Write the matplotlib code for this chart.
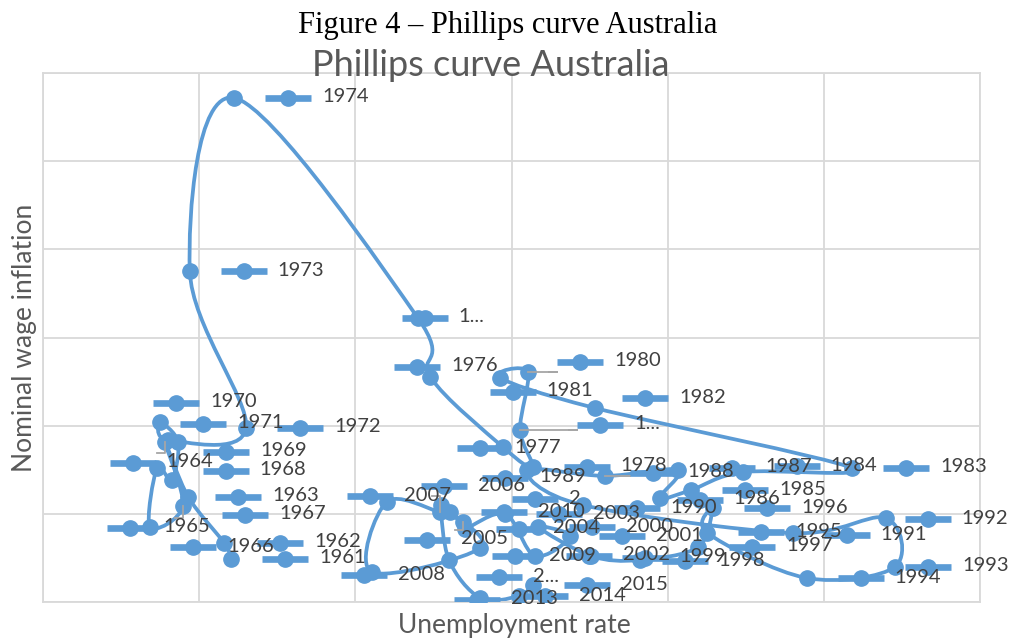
import numpy as np
import matplotlib.pyplot as plt
from matplotlib.path import Path
from matplotlib.patches import PathPatch

years = list(range(1961, 2016))

# unemployment rate (%) and nominal wage inflation (%)
unemployment = [2.41, 2.32, 1.86, 1.56, 1.79, 1.37, 1.46, 1.65, 1.73, 1.50,
                1.60, 2.60, 1.88, 2.45, 4.80, 4.96, 5.89, 6.27, 6.11, 6.21,
                5.85, 7.07, 10.36, 8.96, 8.30, 7.90, 8.13, 7.20, 6.20, 6.91,
                9.60, 10.79, 10.91, 9.78, 8.51, 8.58, 8.39, 7.64, 7.02, 6.34,
                6.75, 6.30, 5.92, 5.40, 5.38, 5.08, 4.40, 4.21, 5.60, 5.21,
                5.10, 5.20, 5.60, 6.09, 6.27]
wage_inflation = [2.44, 3.35, 5.96, 9.08, 5.45, 4.25, 7.60, 6.92, 9.08, 10.21,
                  9.19, 9.87, 18.77, 28.59, 16.11, 12.76, 8.79, 7.66, 9.76, 13.05,
                  12.71, 11.00, 7.60, 7.37, 6.35, 5.90, 7.49, 7.15, 7.49, 5.50,
                  3.91, 4.76, 1.99, 1.36, 3.91, 5.33, 3.12, 2.38, 2.61, 4.25,
                  3.74, 2.61, 4.99, 4.14, 4.54, 5.10, 5.67, 1.70, 3.06, 5.10,
                  5.50, 2.38, 0.23, 0.34, 0.96]

# labels that were cut short in the original
short_labels = {1975: '1...', 1979: '1...', 2011: '2', 2012: '2...'}

# where each data label's legend key sits, in pixels from its point (right, down)
label_offset = {
    1961: (54, 0), 1962: (56, 0), 1963: (50, 0), 1964: (-32, 21), 1965: (-53, 22),
    1966: (43, 20), 1967: (88, 47), 1968: (54, -9), 1969: (48, 10), 1970: (16, -19),
    1971: (35, -16), 1975: (7, 0), 1976: (-13, -10), 1977: (-23, 1), 1979: (80, -5),
    1980: (52, -10), 1981: (13, 14), 1982: (50, -10), 1984: (54, -6), 1986: (40, 2),
    1987: (54, -2), 1988: (48, -3), 1989: (-22, 8), 1990: (54, 3), 1991: (54, 2),
    1992: (42, 1), 1993: (33, 0), 1995: (54, -1), 1998: (45, 1), 1999: (54, 2),
    2001: (52, 0), 2005: (-36, 18), 2006: (4, -26), 2007: (-17, -6), 2008: (-8, 3),
    2009: (35, 8), 2011: (94, -6), 2012: (50, 17), 2013: (-3, 2), 2014: (26, 0),
}
leader_years = [1964, 1965, 1979, 1980, 1988, 2005, 2006]

blue = '#5B9BD5'
grey_text = '#404040'


def smooth_path(x, y):
    # Excel-like smoothed line (Catmull-Rom as cubic Bezier)
    pts = np.column_stack([x, y])
    p = np.vstack([pts[0], pts, pts[-1]])
    verts = [pts[0]]
    codes = [Path.MOVETO]
    for i in range(1, len(pts)):
        p0, p1, p2, p3 = p[i - 1], p[i], p[i + 1], p[i + 2]
        verts += [p1 + (p2 - p0) / 6, p2 - (p3 - p1) / 6, p2]
        codes += [Path.CURVE4] * 3
    return Path(verts, codes)


fig = plt.figure(figsize=(10.11, 6.39), dpi=100)
ax = fig.add_axes([43 / 1011, 37 / 639, 937 / 1011, 529 / 639])
ax.set_xlim(0, 12)
ax.set_ylim(0, 30)
ax.set_xticks(np.arange(0, 13, 2))
ax.set_yticks(np.arange(0, 31, 5))
ax.tick_params(length=0, labelleft=False, labelbottom=False)
ax.grid(color='#D9D9D9', lw=1.3)
ax.set_axisbelow(True)
for s in ax.spines.values():
    s.set_color('#D9D9D9')
    s.set_linewidth(1.3)

ax.add_patch(PathPatch(smooth_path(unemployment, wage_inflation), facecolor='none',
                       edgecolor=blue, lw=2.7, zorder=2))
ax.plot(unemployment, wage_inflation, 'o', color=blue, ms=11, zorder=3)

to_px = ax.transData
inv = to_px.inverted()
for yr, u, w in zip(years, unemployment, wage_inflation):
    mx, my = to_px.transform((u, w))
    dx, dy = label_offset.get(yr, (54, 0))
    kx, ky = mx + dx, my - dy
    txt = short_labels.get(yr, str(yr))
    if yr in leader_years:
        # leader line from the point to the nearest edge of the label box
        bx0, bx1 = kx - 23, kx + 36 + 11 * len(txt)
        by0, by1 = ky - 10, ky + 10
        ex, ey = min(max(mx, bx0), bx1), min(max(my, by0), by1)
        tail = 8 if ex < mx else -8
        seg = inv.transform([(mx, my), (ex, ey), (ex + tail, ey)])
        ax.plot(seg[:, 0], seg[:, 1], color='#A6A6A6', lw=1.3, zorder=3.5)
    key = inv.transform([(kx - 23, ky), (kx + 23, ky)])
    ax.plot(key[:, 0], key[:, 1], color=blue, lw=4.8, solid_capstyle='butt', zorder=4)
    kc = inv.transform((kx, ky))
    ax.plot(kc[0], kc[1], 'o', color=blue, ms=11, zorder=4)
    tp = inv.transform((kx + 34, ky + 1))
    ax.text(tp[0], tp[1], txt, fontsize=14.5, family='Lato', color=grey_text,
            ha='left', va='center', zorder=5)

fig.text(508 / 1011, 1 - 26 / 639, 'Figure 4 \u2013 Phillips curve Australia',
         family='Liberation Serif', fontsize=22, color='black', ha='center', va='center')
fig.text(491 / 1011, 1 - 65 / 639, 'Phillips curve Australia', family='Lato',
         fontsize=26, color='#595959', ha='center', va='center')
fig.text(514 / 1011, 1 - 626 / 639, 'Unemployment rate', family='Lato',
         fontsize=19, color='#595959', ha='center', va='center')
fig.text(25 / 1011, 1 - 338 / 639, 'Nominal wage inflation', family='Lato',
         fontsize=19, color='#595959', ha='center', va='center', rotation=90)

fig.savefig('out.png', dpi=100)
